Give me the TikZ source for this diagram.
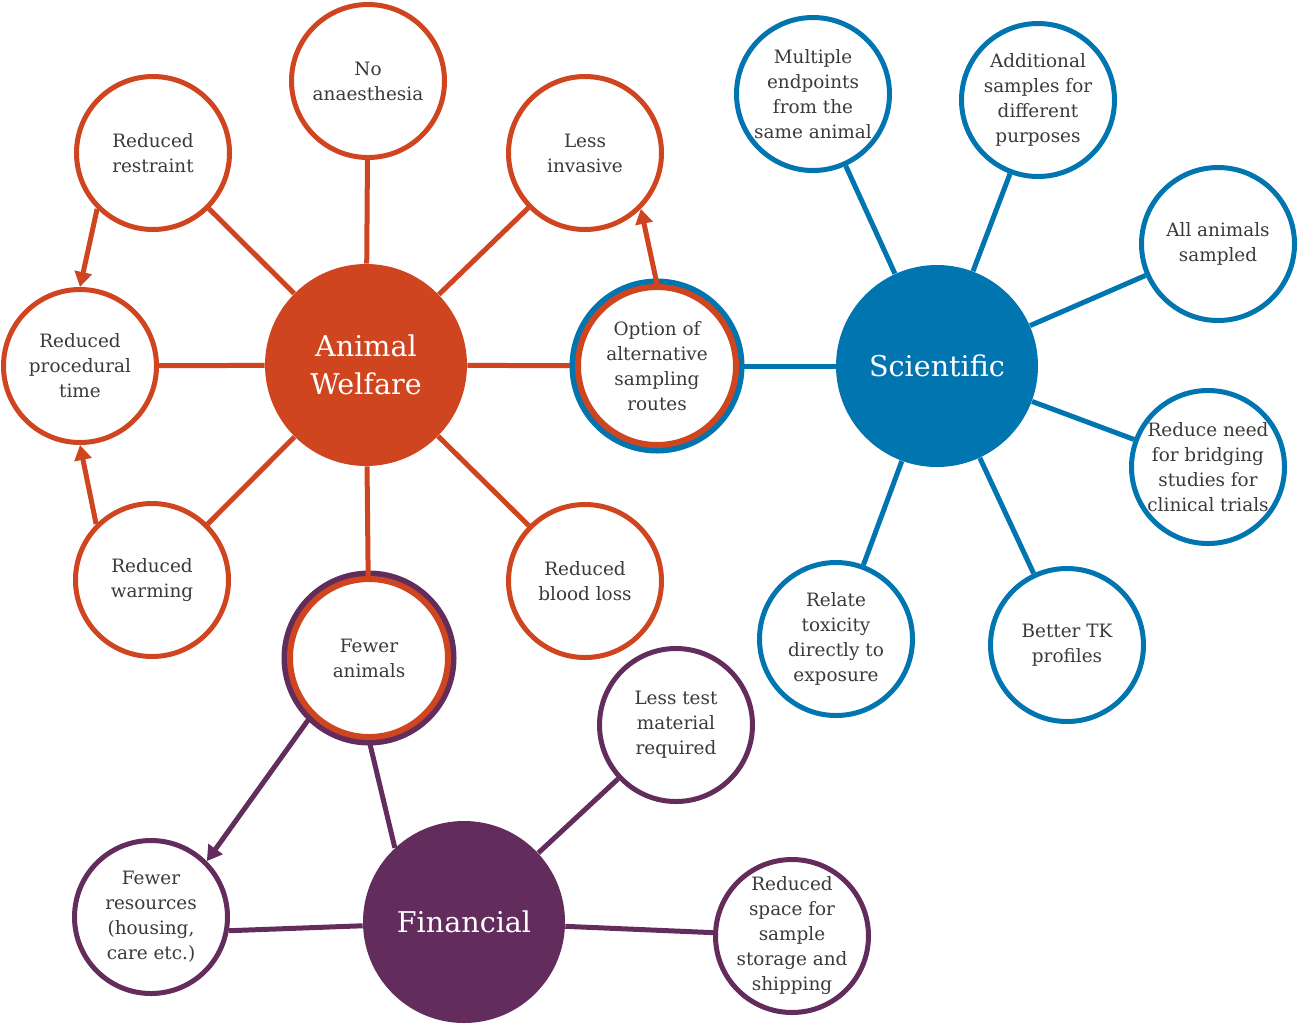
\documentclass[tikz,border=0pt]{standalone}
\usepackage{fontspec}
\setmainfont{DejaVu Serif}
\usetikzlibrary{arrows.meta,backgrounds}
\definecolor{welfare}{HTML}{CF4520}
\definecolor{science}{HTML}{0075B0}
\definecolor{money}{HTML}{622C5D}
\definecolor{ink}{HTML}{3A3A3A}

\begin{document}
\begin{tikzpicture}[x=0.5pt, y=-0.5pt,
every node/.style = {shape=circle, align=center, inner sep=-8pt},
leaf/.style = {draw=#1, line width=2.5pt, fill=white, minimum size=76.5pt,
	text=ink, font=\fontsize{9.2}{12.5}\selectfont},
hub/.style = {fill=#1, minimum size=101pt, text=white,
	font=\fontsize{14.3}{19}\selectfont},
twin/.style 2 args = {leaf=#1, line width=3pt, minimum size=79pt,
	preaction={draw=#2, line width=8.5pt}},
link/.style = {draw=#1, line width=2.5pt},
arrow/.style = {link=#1, -{Triangle[length=7.5pt,width=8.5pt]}}]

\useasboundingbox (0,0) rectangle (1300,1024);

\node[hub=welfare] (aw) at (366,365) {Animal\\Welfare};
\node[hub=science] (sci) at (937,366) {Scientific};
\node[hub=money] (fin) at (464,922) {Financial};

\node[leaf=welfare] (noan) at (368,81) {No\\anaesthesia};
\node[leaf=welfare] (restr) at (153,153) {Reduced\\restraint};
\node[leaf=welfare] (inv) at (585,153) {Less\\invasive};
\node[leaf=welfare] (proc) at (80,366) {Reduced\\procedural\\time};
\node[leaf=welfare] (warm) at (152,580) {Reduced\\warming};
\node[leaf=welfare] (blood) at (585,581) {Reduced\\blood loss};
\node[twin={welfare}{money}] (fewer) at (369,658) {Fewer\\animals};
\node[twin={welfare}{science}] (route) at (657,366) {Option of\\alternative\\sampling\\routes};

\node[leaf=science] (multi) at (813,94) {Multiple\\endpoints\\from the\\same animal};
\node[leaf=science] (addit) at (1038,100) {Additional\\samples for\\different\\purposes};
\node[leaf=science] (allan) at (1218,244) {All animals\\sampled};
\node[leaf=science] (bridge) at (1208,467) {Reduce need\\for bridging\\studies for\\clinical trials};
\node[leaf=science] (tk) at (1067,645) {Better TK\\profiles};
\node[leaf=science] (tox) at (836,639) {Relate\\toxicity\\directly to\\exposure};

\node[leaf=money] (res) at (151,917) {Fewer\\resources\\(housing,\\care etc.)};
\node[leaf=money] (mat) at (676,725) {Less test\\material\\required};
\node[leaf=money] (space) at (792,936) {Reduced\\space for\\sample\\storage and\\shipping};

\begin{scope}[on background layer]
\foreach \n in {noan,restr,inv,proc,warm,blood,route}
	\draw[link=welfare] (aw) -- (\n);
\foreach \n in {route,multi,addit,allan,bridge,tk,tox}
	\draw[link=science] (sci) -- (\n);
\draw[link=money] (fin.133) -- (fewer.south);
\draw[link=money] (fin) -- (mat);
\draw[link=money] (fin) -- (space);
\draw[link=money] (fin) -- (res.-10);
\end{scope}

\draw[link=welfare] (aw) -- (fewer);
\draw[arrow=welfare] (restr.-135) -- (proc.north);
\draw[arrow=welfare] (warm.135) -- (proc.south);
\draw[arrow=welfare] (route.north) -- (inv.-45);
\draw[arrow=money] (fewer.-135) -- (res.45);
\end{tikzpicture}
\end{document}
